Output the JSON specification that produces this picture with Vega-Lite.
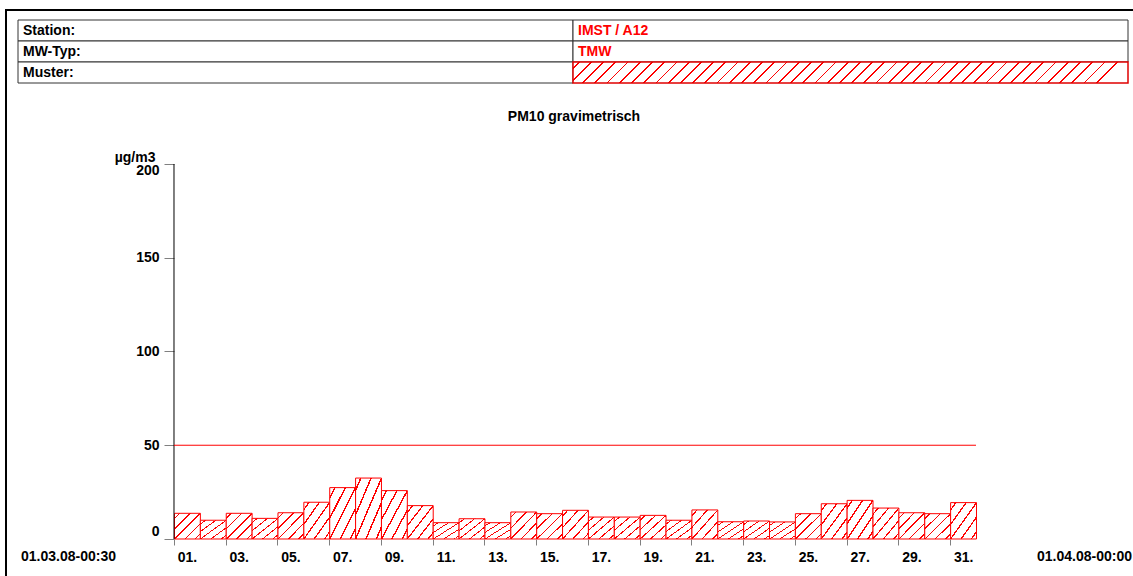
{
  "$schema": "https://vega.github.io/schema/vega-lite/v6.json",
  "autosize": "none",
  "width": 1128,
  "height": 567,
  "padding": {"left": 6, "top": 10, "right": -1, "bottom": -1},
  "background": "white",
  "view": {"stroke": "black", "strokeWidth": 2},
  "config": {"font": "Liberation Sans"},
  "title": {"text": "PM10 gravimetrisch", "frame": "group", "anchor": "middle", "offset": -125, "baseline": "alphabetic", "dx": 4, "fontSize": 14, "fontWeight": "bold", "font": "Liberation Sans", "color": "black"},
  "layer": [
    {
      "data": {"values": [
        {"row": 1, "col": "label", "text": "Station:"},
        {"row": 1, "col": "value", "text": "IMST / A12"},
        {"row": 2, "col": "label", "text": "MW-Typ:"},
        {"row": 2, "col": "value", "text": "TMW"},
        {"row": 3, "col": "label", "text": "Muster:"},
        {"row": 3, "col": "value", "text": ""}
      ]},
      "encoding": {
        "x": {"field": "col", "type": "nominal", "axis": null, "scale": {"domain": ["label", "value"], "paddingInner": 0, "paddingOuter": 0.016216, "align": 0.6667}},
        "y": {"field": "row", "type": "quantitative", "axis": null, "scale": {"domain": [0.0238, 27.0238], "reverse": true, "nice": false, "zero": false}}
      },
      "layer": [
        {
          "transform": [{"filter": "datum.text != ''"}],
          "mark": {"type": "rect", "height": 21, "fill": "white", "stroke": "#333333", "strokeWidth": 1}
        },
        {
          "transform": [{"filter": "datum.text == ''"}],
          "mark": {"type": "rect", "height": 21, "stroke": "#e00000", "strokeWidth": 1.5, "fill": {"gradient": "linear", "x1": 0, "y1": 0, "x2": 1, "y2": 0.0378, "stops": [
            {"offset": 0, "color": "#fff"},
            {"offset": 0.0094, "color": "#fff"}, {"offset": 0.0094, "color": "#f00"}, {"offset": 0.0126, "color": "#f00"}, {"offset": 0.0126, "color": "#fff"},
            {"offset": 0.0314, "color": "#fff"}, {"offset": 0.0314, "color": "#f00"}, {"offset": 0.0346, "color": "#f00"}, {"offset": 0.0346, "color": "#fff"},
            {"offset": 0.0534, "color": "#fff"}, {"offset": 0.0534, "color": "#f00"}, {"offset": 0.0566, "color": "#f00"}, {"offset": 0.0566, "color": "#fff"},
            {"offset": 0.0754, "color": "#fff"}, {"offset": 0.0754, "color": "#f00"}, {"offset": 0.0786, "color": "#f00"}, {"offset": 0.0786, "color": "#fff"},
            {"offset": 0.0974, "color": "#fff"}, {"offset": 0.0974, "color": "#f00"}, {"offset": 0.1006, "color": "#f00"}, {"offset": 0.1006, "color": "#fff"},
            {"offset": 0.1194, "color": "#fff"}, {"offset": 0.1194, "color": "#f00"}, {"offset": 0.1226, "color": "#f00"}, {"offset": 0.1226, "color": "#fff"},
            {"offset": 0.1414, "color": "#fff"}, {"offset": 0.1414, "color": "#f00"}, {"offset": 0.1446, "color": "#f00"}, {"offset": 0.1446, "color": "#fff"},
            {"offset": 0.1634, "color": "#fff"}, {"offset": 0.1634, "color": "#f00"}, {"offset": 0.1666, "color": "#f00"}, {"offset": 0.1666, "color": "#fff"},
            {"offset": 0.1854, "color": "#fff"}, {"offset": 0.1854, "color": "#f00"}, {"offset": 0.1886, "color": "#f00"}, {"offset": 0.1886, "color": "#fff"},
            {"offset": 0.2074, "color": "#fff"}, {"offset": 0.2074, "color": "#f00"}, {"offset": 0.2106, "color": "#f00"}, {"offset": 0.2106, "color": "#fff"},
            {"offset": 0.2294, "color": "#fff"}, {"offset": 0.2294, "color": "#f00"}, {"offset": 0.2326, "color": "#f00"}, {"offset": 0.2326, "color": "#fff"},
            {"offset": 0.2514, "color": "#fff"}, {"offset": 0.2514, "color": "#f00"}, {"offset": 0.2546, "color": "#f00"}, {"offset": 0.2546, "color": "#fff"},
            {"offset": 0.2734, "color": "#fff"}, {"offset": 0.2734, "color": "#f00"}, {"offset": 0.2766, "color": "#f00"}, {"offset": 0.2766, "color": "#fff"},
            {"offset": 0.2954, "color": "#fff"}, {"offset": 0.2954, "color": "#f00"}, {"offset": 0.2986, "color": "#f00"}, {"offset": 0.2986, "color": "#fff"},
            {"offset": 0.3174, "color": "#fff"}, {"offset": 0.3174, "color": "#f00"}, {"offset": 0.3206, "color": "#f00"}, {"offset": 0.3206, "color": "#fff"},
            {"offset": 0.3394, "color": "#fff"}, {"offset": 0.3394, "color": "#f00"}, {"offset": 0.3426, "color": "#f00"}, {"offset": 0.3426, "color": "#fff"},
            {"offset": 0.3614, "color": "#fff"}, {"offset": 0.3614, "color": "#f00"}, {"offset": 0.3646, "color": "#f00"}, {"offset": 0.3646, "color": "#fff"},
            {"offset": 0.3834, "color": "#fff"}, {"offset": 0.3834, "color": "#f00"}, {"offset": 0.3866, "color": "#f00"}, {"offset": 0.3866, "color": "#fff"},
            {"offset": 0.4054, "color": "#fff"}, {"offset": 0.4054, "color": "#f00"}, {"offset": 0.4086, "color": "#f00"}, {"offset": 0.4086, "color": "#fff"},
            {"offset": 0.4274, "color": "#fff"}, {"offset": 0.4274, "color": "#f00"}, {"offset": 0.4306, "color": "#f00"}, {"offset": 0.4306, "color": "#fff"},
            {"offset": 0.4494, "color": "#fff"}, {"offset": 0.4494, "color": "#f00"}, {"offset": 0.4526, "color": "#f00"}, {"offset": 0.4526, "color": "#fff"},
            {"offset": 0.4714, "color": "#fff"}, {"offset": 0.4714, "color": "#f00"}, {"offset": 0.4746, "color": "#f00"}, {"offset": 0.4746, "color": "#fff"},
            {"offset": 0.4934, "color": "#fff"}, {"offset": 0.4934, "color": "#f00"}, {"offset": 0.4966, "color": "#f00"}, {"offset": 0.4966, "color": "#fff"},
            {"offset": 0.5154, "color": "#fff"}, {"offset": 0.5154, "color": "#f00"}, {"offset": 0.5186, "color": "#f00"}, {"offset": 0.5186, "color": "#fff"},
            {"offset": 0.5374, "color": "#fff"}, {"offset": 0.5374, "color": "#f00"}, {"offset": 0.5406, "color": "#f00"}, {"offset": 0.5406, "color": "#fff"},
            {"offset": 0.5594, "color": "#fff"}, {"offset": 0.5594, "color": "#f00"}, {"offset": 0.5626, "color": "#f00"}, {"offset": 0.5626, "color": "#fff"},
            {"offset": 0.5814, "color": "#fff"}, {"offset": 0.5814, "color": "#f00"}, {"offset": 0.5846, "color": "#f00"}, {"offset": 0.5846, "color": "#fff"},
            {"offset": 0.6034, "color": "#fff"}, {"offset": 0.6034, "color": "#f00"}, {"offset": 0.6066, "color": "#f00"}, {"offset": 0.6066, "color": "#fff"},
            {"offset": 0.6254, "color": "#fff"}, {"offset": 0.6254, "color": "#f00"}, {"offset": 0.6286, "color": "#f00"}, {"offset": 0.6286, "color": "#fff"},
            {"offset": 0.6474, "color": "#fff"}, {"offset": 0.6474, "color": "#f00"}, {"offset": 0.6506, "color": "#f00"}, {"offset": 0.6506, "color": "#fff"},
            {"offset": 0.6694, "color": "#fff"}, {"offset": 0.6694, "color": "#f00"}, {"offset": 0.6726, "color": "#f00"}, {"offset": 0.6726, "color": "#fff"},
            {"offset": 0.6914, "color": "#fff"}, {"offset": 0.6914, "color": "#f00"}, {"offset": 0.6946, "color": "#f00"}, {"offset": 0.6946, "color": "#fff"},
            {"offset": 0.7134, "color": "#fff"}, {"offset": 0.7134, "color": "#f00"}, {"offset": 0.7166, "color": "#f00"}, {"offset": 0.7166, "color": "#fff"},
            {"offset": 0.7354, "color": "#fff"}, {"offset": 0.7354, "color": "#f00"}, {"offset": 0.7386, "color": "#f00"}, {"offset": 0.7386, "color": "#fff"},
            {"offset": 0.7574, "color": "#fff"}, {"offset": 0.7574, "color": "#f00"}, {"offset": 0.7606, "color": "#f00"}, {"offset": 0.7606, "color": "#fff"},
            {"offset": 0.7794, "color": "#fff"}, {"offset": 0.7794, "color": "#f00"}, {"offset": 0.7826, "color": "#f00"}, {"offset": 0.7826, "color": "#fff"},
            {"offset": 0.8014, "color": "#fff"}, {"offset": 0.8014, "color": "#f00"}, {"offset": 0.8046, "color": "#f00"}, {"offset": 0.8046, "color": "#fff"},
            {"offset": 0.8234, "color": "#fff"}, {"offset": 0.8234, "color": "#f00"}, {"offset": 0.8266, "color": "#f00"}, {"offset": 0.8266, "color": "#fff"},
            {"offset": 0.8454, "color": "#fff"}, {"offset": 0.8454, "color": "#f00"}, {"offset": 0.8486, "color": "#f00"}, {"offset": 0.8486, "color": "#fff"},
            {"offset": 0.8674, "color": "#fff"}, {"offset": 0.8674, "color": "#f00"}, {"offset": 0.8706, "color": "#f00"}, {"offset": 0.8706, "color": "#fff"},
            {"offset": 0.8894, "color": "#fff"}, {"offset": 0.8894, "color": "#f00"}, {"offset": 0.8926, "color": "#f00"}, {"offset": 0.8926, "color": "#fff"},
            {"offset": 0.9114, "color": "#fff"}, {"offset": 0.9114, "color": "#f00"}, {"offset": 0.9146, "color": "#f00"}, {"offset": 0.9146, "color": "#fff"},
            {"offset": 0.9334, "color": "#fff"}, {"offset": 0.9334, "color": "#f00"}, {"offset": 0.9366, "color": "#f00"}, {"offset": 0.9366, "color": "#fff"},
            {"offset": 0.9554, "color": "#fff"}, {"offset": 0.9554, "color": "#f00"}, {"offset": 0.9586, "color": "#f00"}, {"offset": 0.9586, "color": "#fff"},
            {"offset": 0.9774, "color": "#fff"}, {"offset": 0.9774, "color": "#f00"}, {"offset": 0.9806, "color": "#f00"}, {"offset": 0.9806, "color": "#fff"},
            {"offset": 1, "color": "#fff"}
          ]}}
        },
        {
          "mark": {"type": "text", "align": "left", "baseline": "middle", "dx": 5, "fontSize": 14, "fontWeight": "bold", "font": "Liberation Sans"},
          "encoding": {
            "x": {"field": "col", "type": "nominal", "axis": null, "bandPosition": 0},
            "text": {"field": "text"},
            "color": {"condition": {"test": "datum.col == 'value'", "value": "#ff0000"}, "value": "black"}
          }
        }
      ]
    },
    {
      "layer": [
        {
          "data": {"values": [
            {"date": "2008-03-01", "pm10": 13.7}, {"date": "2008-03-02", "pm10": 10.0}, {"date": "2008-03-03", "pm10": 13.7},
            {"date": "2008-03-04", "pm10": 11.0}, {"date": "2008-03-05", "pm10": 14.0}, {"date": "2008-03-06", "pm10": 19.6},
            {"date": "2008-03-07", "pm10": 27.4}, {"date": "2008-03-08", "pm10": 32.5}, {"date": "2008-03-09", "pm10": 25.8},
            {"date": "2008-03-10", "pm10": 17.8}, {"date": "2008-03-11", "pm10": 8.7}, {"date": "2008-03-12", "pm10": 10.8},
            {"date": "2008-03-13", "pm10": 8.7}, {"date": "2008-03-14", "pm10": 14.4}, {"date": "2008-03-15", "pm10": 13.5},
            {"date": "2008-03-16", "pm10": 15.3}, {"date": "2008-03-17", "pm10": 11.7}, {"date": "2008-03-18", "pm10": 11.7},
            {"date": "2008-03-19", "pm10": 12.6}, {"date": "2008-03-20", "pm10": 10.0}, {"date": "2008-03-21", "pm10": 15.5},
            {"date": "2008-03-22", "pm10": 9.2}, {"date": "2008-03-23", "pm10": 9.6}, {"date": "2008-03-24", "pm10": 9.1},
            {"date": "2008-03-25", "pm10": 13.5}, {"date": "2008-03-26", "pm10": 18.8}, {"date": "2008-03-27", "pm10": 20.6},
            {"date": "2008-03-28", "pm10": 16.5}, {"date": "2008-03-29", "pm10": 14.0}, {"date": "2008-03-30", "pm10": 13.5},
            {"date": "2008-03-31", "pm10": 19.4}
          ]},
          "mark": {"type": "bar", "stroke": "#ff0000", "strokeWidth": 1, "binSpacing": 0, "fill": {"gradient": "linear", "x1": 0, "y1": 0, "x2": 1, "y2": 1, "stops": [
            {"offset": 0, "color": "#fff"},
            {"offset": 0.085, "color": "#fff"}, {"offset": 0.085, "color": "#f00"}, {"offset": 0.115, "color": "#f00"}, {"offset": 0.115, "color": "#fff"},
            {"offset": 0.285, "color": "#fff"}, {"offset": 0.285, "color": "#f00"}, {"offset": 0.315, "color": "#f00"}, {"offset": 0.315, "color": "#fff"},
            {"offset": 0.485, "color": "#fff"}, {"offset": 0.485, "color": "#f00"}, {"offset": 0.515, "color": "#f00"}, {"offset": 0.515, "color": "#fff"},
            {"offset": 0.685, "color": "#fff"}, {"offset": 0.685, "color": "#f00"}, {"offset": 0.715, "color": "#f00"}, {"offset": 0.715, "color": "#fff"},
            {"offset": 0.885, "color": "#fff"}, {"offset": 0.885, "color": "#f00"}, {"offset": 0.915, "color": "#f00"}, {"offset": 0.915, "color": "#fff"},
            {"offset": 1, "color": "#fff"}
          ]}},
          "encoding": {
            "x": {
              "field": "date", "type": "temporal", "timeUnit": "utcyearmonthdate",
              "scale": {"type": "utc", "domain": [
                {"year": 2008, "month": 2, "date": 23, "hours": 12, "minutes": 9, "utc": true},
                {"year": 2008, "month": 4, "date": 7, "hours": 2, "minutes": 35, "utc": true}
              ]},
              "axis": {
                "offset": -38, "domain": false, "grid": false,
                "values": [
                  {"year": 2008, "month": 3, "date": 1, "utc": true}, {"year": 2008, "month": 3, "date": 2, "utc": true},
                  {"year": 2008, "month": 3, "date": 3, "utc": true}, {"year": 2008, "month": 3, "date": 4, "utc": true},
                  {"year": 2008, "month": 3, "date": 5, "utc": true}, {"year": 2008, "month": 3, "date": 6, "utc": true},
                  {"year": 2008, "month": 3, "date": 7, "utc": true}, {"year": 2008, "month": 3, "date": 8, "utc": true},
                  {"year": 2008, "month": 3, "date": 9, "utc": true}, {"year": 2008, "month": 3, "date": 10, "utc": true},
                  {"year": 2008, "month": 3, "date": 11, "utc": true}, {"year": 2008, "month": 3, "date": 12, "utc": true},
                  {"year": 2008, "month": 3, "date": 13, "utc": true}, {"year": 2008, "month": 3, "date": 14, "utc": true},
                  {"year": 2008, "month": 3, "date": 15, "utc": true}, {"year": 2008, "month": 3, "date": 16, "utc": true},
                  {"year": 2008, "month": 3, "date": 17, "utc": true}, {"year": 2008, "month": 3, "date": 18, "utc": true},
                  {"year": 2008, "month": 3, "date": 19, "utc": true}, {"year": 2008, "month": 3, "date": 20, "utc": true},
                  {"year": 2008, "month": 3, "date": 21, "utc": true}, {"year": 2008, "month": 3, "date": 22, "utc": true},
                  {"year": 2008, "month": 3, "date": 23, "utc": true}, {"year": 2008, "month": 3, "date": 24, "utc": true},
                  {"year": 2008, "month": 3, "date": 25, "utc": true}, {"year": 2008, "month": 3, "date": 26, "utc": true},
                  {"year": 2008, "month": 3, "date": 27, "utc": true}, {"year": 2008, "month": 3, "date": 28, "utc": true},
                  {"year": 2008, "month": 3, "date": 29, "utc": true}, {"year": 2008, "month": 3, "date": 30, "utc": true},
                  {"year": 2008, "month": 3, "date": 31, "utc": true}, {"year": 2008, "month": 4, "date": 1, "utc": true}
                ],
                "title": "01.03.08-00:30", "titleX": 62, "titleY": 21, "titleAlign": "center", "titleBaseline": "alphabetic", "titleAnchor": null,
                "titleFontSize": 14, "titleFontWeight": "bold", "titleColor": "black", "titleFont": "Liberation Sans",
                "labelAngle": 0, "labelOffset": 13, "labelFlush": false, "labelOverlap": false, "labelBound": false,
                "labelExpr": "utcmonth(datum.value) == 2 && utcdate(datum.value) % 2 == 1 ? utcFormat(datum.value, '%d.') : ''",
                "labelFontSize": 14, "labelFontWeight": "bold", "labelColor": "black", "labelFont": "Liberation Sans", "labelPadding": 5,
                "tickSize": 6, "tickColor": "#808080"
              }
            },
            "y": {
              "field": "pm10", "type": "quantitative",
              "scale": {"domain": [-20.267, 282.133], "nice": false, "zero": false},
              "axis": {
                "offset": -168, "domain": false, "grid": false,
                "values": [0, 50, 100, 150, 200],
                "title": "µg/m3", "titleAngle": 0, "titleX": -19, "titleY": 151, "titleAlign": "right", "titleBaseline": "alphabetic", "titleAnchor": null,
                "titleFontSize": 14, "titleFontWeight": "bold", "titleColor": "black", "titleFont": "Liberation Sans",
                "labelFontSize": 14, "labelFontWeight": "bold", "labelColor": "black", "labelFont": "Liberation Sans", "labelPadding": 5,
                "labelFlush": false, "labelOverlap": false,
                "labelBaseline": {"condition": [{"test": "datum.value == 0", "value": "bottom"}, {"test": "datum.value == 200", "value": "top"}], "value": "middle"},
                "tickSize": 10, "tickColor": "#808080"
              }
            },
            "y2": {"datum": 0}
          }
        },
        {
          "data": {"values": [{"date": "2008-03-01", "lo": 0, "hi": 200}]},
          "mark": {"type": "rule", "color": "black", "strokeWidth": 1},
          "encoding": {
            "x": {"field": "date", "type": "temporal", "scale": {"type": "utc"}},
            "y": {"field": "lo", "type": "quantitative", "axis": null},
            "y2": {"field": "hi"}
          }
        },
        {
          "data": {"values": [{"from": "2008-03-01", "to": "2008-04-01", "limit": 50}]},
          "mark": {"type": "rule", "color": "#ff0000", "strokeWidth": 1},
          "encoding": {
            "x": {"field": "from", "type": "temporal", "scale": {"type": "utc"}},
            "x2": {"field": "to"},
            "y": {
              "field": "limit", "type": "quantitative",
              "axis": {
                "orient": "right", "title": "01.04.08-00:00", "titleX": -50, "titleY": 550, "titleAngle": 0, "titleAnchor": null,
                "titleAlign": "center", "titleBaseline": "alphabetic", "titleFontSize": 14, "titleFontWeight": "bold",
                "titleColor": "black", "titleFont": "Liberation Sans",
                "labels": false, "ticks": false, "domain": false, "grid": false
              }
            }
          }
        }
      ],
      "resolve": {"axis": {"y": "independent"}}
    }
  ],
  "resolve": {"scale": {"x": "independent", "y": "independent"}, "axis": {"x": "independent", "y": "independent"}}
}
